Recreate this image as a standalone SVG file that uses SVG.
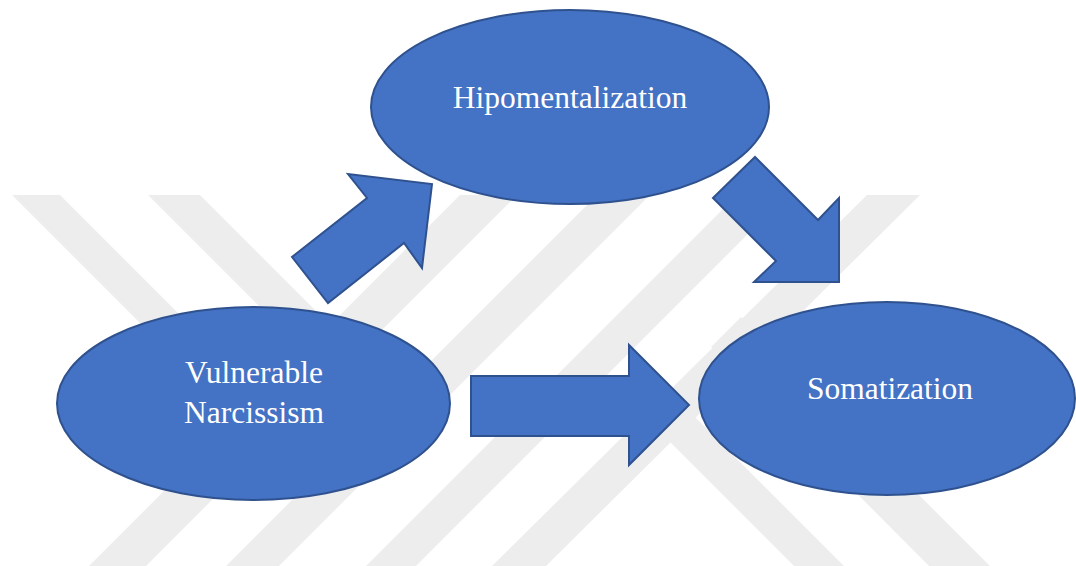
<svg xmlns="http://www.w3.org/2000/svg" width="1076" height="566" viewBox="0 0 1076 566">
  <style>
    .shape { fill: #4472C4; stroke: #2F528F; stroke-width: 2; stroke-linejoin: miter; }
    .label { fill: #FFFFFF; font-family: "Liberation Serif", "Times New Roman", serif; font-size: 31.5px; text-anchor: middle; }
    .wm { fill: #EDEDED; }
  </style>
  <defs>
    <clipPath id="band">
      <rect x="0" y="195" width="1076" height="371"/>
    </clipPath>
  </defs>
  <rect x="0" y="0" width="1076" height="566" fill="#FFFFFF"/>

  <g id="watermark" clip-path="url(#band)">
    <polygon class="wm" points="460,195 517,195 146,566 89,566"/>
    <polygon class="wm" points="597,195 650,195 279,566 226,566"/>
    <polygon class="wm" points="737,195 787,195 416,566 366,566"/>
    <polygon class="wm" points="867,195 920,195 546,566 492,566"/>
    <polygon class="wm" points="12,195 60,195 288,423 264,447"/>
    <polygon class="wm" points="148,195 200,195 425,420 399,446"/>
    <polygon class="wm" points="643,415 668,390 844,566 794,566"/>
    <polygon class="wm" points="711,347 741,317 990,566 929,566"/>
  </g>

  <g id="connectors">
    <polygon id="arrow-vn-hipo" class="shape" points="292,257 328,303 404,243 422,268 432,184 348,174 367,198"/>
    <polygon id="arrow-hipo-som" class="shape" points="713,198 755,157 818,220 839,198 839,282 754,282 776,261"/>
    <polygon id="arrow-vn-som" class="shape" points="471,376 629,376 629,345 689,405 629,465 629,436 471,436"/>
  </g>

  <g id="node-hipomentalization">
    <ellipse class="shape" cx="570" cy="107" rx="199" ry="97"/>
    <text class="label" x="570" y="108">Hipomentalization</text>
  </g>

  <g id="node-vulnerable-narcissism">
    <ellipse class="shape" cx="253.5" cy="403.5" rx="196.5" ry="96.5"/>
    <text class="label" x="254" y="383">Vulnerable</text>
    <text class="label" x="254" y="423">Narcissism</text>
  </g>

  <g id="node-somatization">
    <ellipse class="shape" cx="887" cy="398.5" rx="188" ry="96.5"/>
    <text class="label" x="890" y="399">Somatization</text>
  </g>
</svg>
